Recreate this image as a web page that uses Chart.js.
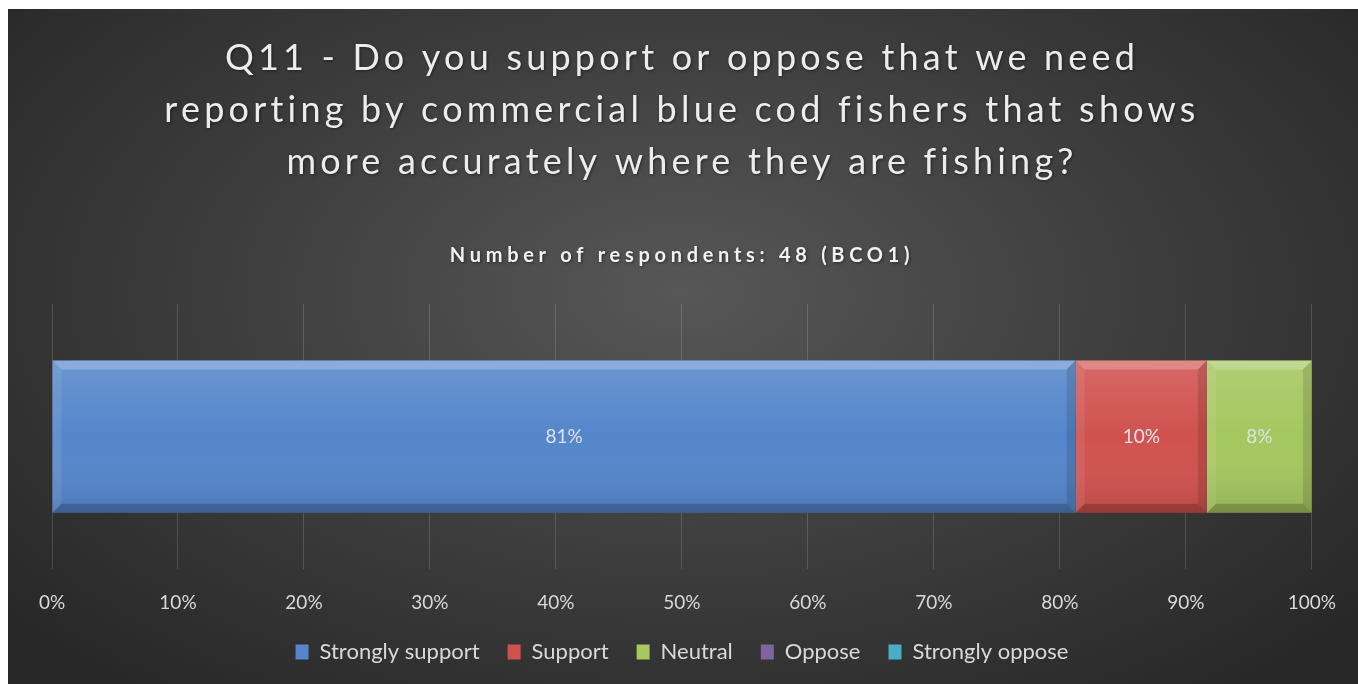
<!DOCTYPE html>
<html>
<head>
<meta charset="utf-8">
<script src="https://cdn.jsdelivr.net/npm/chart.js@4.4.1/dist/chart.umd.min.js"></script>
<style>
  html, body { margin: 0; padding: 0; background: #fff; }
  #wrap {
    position: absolute; left: 8px; top: 9px; width: 1350px; height: 675px;
    background: radial-gradient(ellipse 65% 75% at 50% 42%, #575757 0%, #3c3c3c 55%, #282828 100%);
  }
</style>
</head>
<body>
<div id="wrap"><canvas id="myChart"></canvas></div>
<script>
// Data
var kategori = ['BCO1'];
var seriNama = ['Strongly support', 'Support', 'Neutral', 'Oppose', 'Strongly oppose'];
var seriWarna = ['#5586cb', '#d0524f', '#a5c75f', '#8064a2', '#4bacc6'];
var stronglySupport = [81.25];
var support = [10.42];
var neutral = [8.33];
var oppose = [0];
var stronglyOppose = [0];
var tickLabels = ['0%', '10%', '20%', '30%', '40%', '50%', '60%', '70%', '80%', '90%', '100%'];

var judul = [
    'Q11 - Do you support or oppose that we need',
    'reporting by commercial blue cod fishers that shows',
    'more accurately where they are fishing?'
];
var subJudul = 'Number of respondents: 48 (BCO1)';

var fontName = 'Lato, "Open Sans", sans-serif';

// title/subtitle letter spacing (Chart.js has no option for it)
// + legend takes less vertical room so the plot can go lower
var GESER_LEGEND = 23;
var tataLetak = {
    id: 'tataLetak',
    beforeUpdate: function (chart) {
        var lg = chart.legend;
        if (lg && !lg._geser) {
            var fit = lg.fit.bind(lg);
            var draw = lg.draw.bind(lg);
            lg.fit = function () { fit(); this.height -= GESER_LEGEND; };
            lg.draw = function () {
                this.top -= GESER_LEGEND;
                draw();
                this.top += GESER_LEGEND;
            };
            lg._geser = true;
        }
    },
    beforeDraw: function (chart) {
        var tb = chart.titleBlock;
        if (!tb) return;
        chart.boxes.forEach(function (box) {
            if (box._spaced || box.constructor !== tb.constructor) return;
            var sp = box === tb ? '4.2px' : '4.7px';
            var orig = box.draw.bind(box);
            box.draw = function () {
                var c = chart.ctx;
                c.save();
                c.letterSpacing = sp;
                c.shadowColor = 'rgba(0,0,0,0.45)';
                c.shadowBlur = 3;
                c.shadowOffsetX = 1;
                c.shadowOffsetY = 1;
                orig();
                c.restore();
            };
            box._spaced = true;
        });
    }
};

// bevel look on the bars + value labels
var bevel = {
    id: 'bevel',
    afterDatasetsDraw: function (chart) {
        var ctx = chart.ctx;
        chart.data.datasets.forEach(function (ds, i) {
            var meta = chart.getDatasetMeta(i);
            if (meta.hidden) return;
            meta.data.forEach(function (bar, j) {
                var p = bar.getProps(['x', 'y', 'base', 'height'], true);
                var l = Math.min(p.base, p.x), r = Math.max(p.base, p.x);
                var t = p.y - p.height / 2, b = p.y + p.height / 2;
                if (r - l < 1) return;
                var e = 9;
                ctx.save();
                var g = ctx.createLinearGradient(0, t, 0, b);
                g.addColorStop(0, 'rgba(255,255,255,0.13)');
                g.addColorStop(0.5, 'rgba(255,255,255,0)');
                g.addColorStop(1, 'rgba(0,0,0,0.1)');
                ctx.fillStyle = g;
                ctx.fillRect(l, t, r - l, b - t);
                function quad(pts, col) {
                    ctx.beginPath();
                    ctx.moveTo(pts[0][0], pts[0][1]);
                    for (var k = 1; k < pts.length; k++) ctx.lineTo(pts[k][0], pts[k][1]);
                    ctx.closePath();
                    ctx.fillStyle = col;
                    ctx.fill();
                }
                quad([[l, t], [r, t], [r - e, t + e], [l + e, t + e]], 'rgba(255,255,255,0.22)');
                quad([[l, t], [l + e, t + e], [l + e, b - e], [l, b]], 'rgba(255,255,255,0.08)');
                quad([[r, t], [r, b], [r - e, b - e], [r - e, t + e]], 'rgba(0,0,0,0.12)');
                quad([[l, b], [l + e, b - e], [r - e, b - e], [r, b]], 'rgba(0,0,0,0.2)');
                ctx.restore();

                var v = ds.data[j];
                if (v > 0) {
                    ctx.save();
                    ctx.font = '19px ' + fontName;
                    ctx.fillStyle = '#dde2ea';
                    ctx.textAlign = 'center';
                    ctx.textBaseline = 'middle';
                    ctx.fillText(Math.round(v) + '%', (l + r) / 2, p.y);
                    ctx.restore();
                }
            });
        });
    }
};

var dataSeri = [stronglySupport, support, neutral, oppose, stronglyOppose];

var ctx = document.getElementById('myChart').getContext('2d');
var myChart = new Chart(ctx, {
    type: 'bar',
    data: {
        labels: kategori,
        datasets: seriNama.map(function (nama, i) {
            return {
                label: nama,
                data: dataSeri[i],
                backgroundColor: seriWarna[i],
                borderWidth: 0,
                barPercentage: 0.574,
                categoryPercentage: 1
            };
        })
    },
    options: {
        indexAxis: 'y',
        responsive: true,
        maintainAspectRatio: false,
        animation: false,
        layout: { padding: { left: 44, right: 46, top: 0, bottom: 11 } },
        scales: {
            x: {
                stacked: true,
                min: 0,
                max: 100,
                border: { display: false },
                grid: { color: 'rgba(255,255,255,0.15)', lineWidth: 1, drawTicks: false },
                ticks: {
                    stepSize: 10,
                    padding: 22,
                    color: '#d9d9d9',
                    font: { family: fontName, size: 19 },
                    callback: function (v, i) { return tickLabels[i]; }
                }
            },
            y: {
                stacked: true,
                display: false
            }
        },
        plugins: {
            title: {
                display: true,
                text: judul,
                color: '#ececec',
                font: { family: fontName, size: 36, weight: 'normal', lineHeight: '52px' },
                padding: { top: 23, bottom: 0 }
            },
            subtitle: {
                display: true,
                text: subJudul,
                color: '#f2f2f2',
                font: { family: fontName, size: 20, weight: 'bold', lineHeight: '24px' },
                padding: { top: 56, bottom: 36 }
            },
            legend: {
                position: 'bottom',
                labels: {
                    boxWidth: 13,
                    boxHeight: 15,
                    padding: 28,
                    color: '#d9d9d9',
                    font: { family: fontName, size: 22 }
                }
            },
            tooltip: { enabled: false }
        }
    },
    plugins: [tataLetak, bevel]
});
</script>
</body>
</html>
